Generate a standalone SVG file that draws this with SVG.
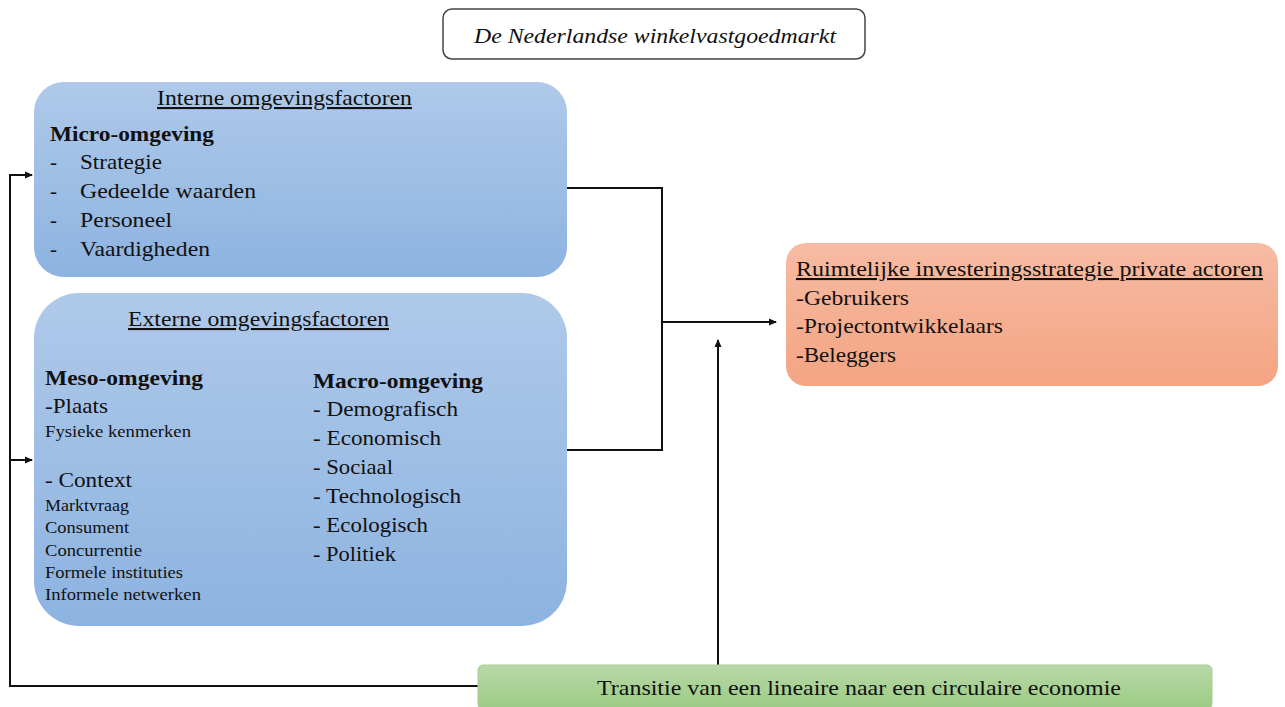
<svg xmlns="http://www.w3.org/2000/svg" width="1285" height="707" viewBox="0 0 1285 707">
<style>
text{font-family:"Liberation Serif","Times New Roman",serif;fill:#111}
.t{font-size:21px}
.s{font-size:16px}
.b{font-size:21px;font-weight:bold}
.u{text-decoration:underline}
.ln{fill:none;stroke:#111;stroke-width:2}
</style>
<defs>
<linearGradient id="gb" x1="0" y1="0" x2="0" y2="1"><stop offset="0" stop-color="#afc9e9"/><stop offset="1" stop-color="#8db3e1"/></linearGradient>
<linearGradient id="go" x1="0" y1="0" x2="0" y2="1"><stop offset="0" stop-color="#f6bba3"/><stop offset="1" stop-color="#f4a482"/></linearGradient>
<linearGradient id="gg" x1="0" y1="0" x2="0" y2="1"><stop offset="0" stop-color="#b8d8a8"/><stop offset="1" stop-color="#9ccb83"/></linearGradient>
<marker id="ah" markerWidth="8" markerHeight="8" refX="7" refY="4" orient="auto" markerUnits="userSpaceOnUse"><path d="M0,0.5 L8,4 L0,7.5 Z" fill="#111"/></marker>
</defs>
<g id="connectors">
<path class="ln" d="M567,188 H662 V450 H567"/>
<path class="ln" d="M662,322 H776" marker-end="url(#ah)"/>
<path class="ln" d="M718,665 V340" marker-end="url(#ah)"/>
<path class="ln" d="M478,686 H10 V175 H32" marker-end="url(#ah)"/>
<path class="ln" d="M10,460 H32" marker-end="url(#ah)"/>
</g>
<g id="title">
<rect x="443" y="9" width="422" height="50" rx="9" fill="#fff" stroke="#444" stroke-width="1.5"/>
<text x="474" y="43" class="t" font-style="italic" textLength="362" lengthAdjust="spacingAndGlyphs">De Nederlandse winkelvastgoedmarkt</text>
</g>
<g id="interne">
<rect x="34" y="82" width="533" height="195" rx="30" fill="url(#gb)"/>
<text x="157" y="105" class="t u" textLength="255" lengthAdjust="spacingAndGlyphs">Interne omgevingsfactoren</text>
<text x="50" y="141" class="b" textLength="164" lengthAdjust="spacingAndGlyphs">Micro-omgeving</text>
<text x="50" y="169" class="t">-</text><text x="80" y="169" class="t" textLength="82" lengthAdjust="spacingAndGlyphs">Strategie</text>
<text x="50" y="198" class="t">-</text><text x="80" y="198" class="t" textLength="176" lengthAdjust="spacingAndGlyphs">Gedeelde waarden</text>
<text x="50" y="227" class="t">-</text><text x="80" y="227" class="t" textLength="92" lengthAdjust="spacingAndGlyphs">Personeel</text>
<text x="50" y="256" class="t">-</text><text x="80" y="256" class="t" textLength="130" lengthAdjust="spacingAndGlyphs">Vaardigheden</text>
</g>
<g id="externe">
<rect x="34" y="293" width="533" height="333" rx="45" fill="url(#gb)"/>
<text x="128" y="326" class="t u" textLength="261" lengthAdjust="spacingAndGlyphs">Externe omgevingsfactoren</text>
<text x="45" y="385" class="b" textLength="158" lengthAdjust="spacingAndGlyphs">Meso-omgeving</text>
<text x="45" y="413" class="t" textLength="63" lengthAdjust="spacingAndGlyphs">-Plaats</text>
<text x="45" y="437" class="s" textLength="146" lengthAdjust="spacingAndGlyphs">Fysieke kenmerken</text>
<text x="45" y="487" class="t" textLength="87" lengthAdjust="spacingAndGlyphs">- Context</text>
<text x="45" y="511" class="s" textLength="84" lengthAdjust="spacingAndGlyphs">Marktvraag</text>
<text x="45" y="533" class="s" textLength="84" lengthAdjust="spacingAndGlyphs">Consument</text>
<text x="45" y="556" class="s" textLength="97" lengthAdjust="spacingAndGlyphs">Concurrentie</text>
<text x="45" y="578" class="s" textLength="138" lengthAdjust="spacingAndGlyphs">Formele instituties</text>
<text x="45" y="600" class="s" textLength="156" lengthAdjust="spacingAndGlyphs">Informele netwerken</text>
<text x="313" y="388" class="b" textLength="170" lengthAdjust="spacingAndGlyphs">Macro-omgeving</text>
<text x="313" y="416" class="t" textLength="145" lengthAdjust="spacingAndGlyphs">- Demografisch</text>
<text x="313" y="445" class="t" textLength="128" lengthAdjust="spacingAndGlyphs">- Economisch</text>
<text x="313" y="474" class="t" textLength="80" lengthAdjust="spacingAndGlyphs">- Sociaal</text>
<text x="313" y="503" class="t" textLength="148" lengthAdjust="spacingAndGlyphs">- Technologisch</text>
<text x="313" y="532" class="t" textLength="115" lengthAdjust="spacingAndGlyphs">- Ecologisch</text>
<text x="313" y="561" class="t" textLength="83" lengthAdjust="spacingAndGlyphs">- Politiek</text>
</g>
<g id="strategie">
<rect x="786" y="243" width="492" height="143" rx="20" fill="url(#go)"/>
<text x="796" y="276" class="t u" textLength="467" lengthAdjust="spacingAndGlyphs">Ruimtelijke investeringsstrategie private actoren</text>
<text x="796" y="305" class="t" textLength="113" lengthAdjust="spacingAndGlyphs">-Gebruikers</text>
<text x="796" y="333" class="t" textLength="207" lengthAdjust="spacingAndGlyphs">-Projectontwikkelaars</text>
<text x="796" y="362" class="t" textLength="100" lengthAdjust="spacingAndGlyphs">-Beleggers</text>
</g>
<g id="transitie">
<rect x="478" y="665" width="734" height="44" rx="5" fill="url(#gg)" stroke="#a8cf94" stroke-width="1"/>
<text x="597" y="695" class="t" textLength="524" lengthAdjust="spacingAndGlyphs">Transitie van een lineaire naar een circulaire economie</text>
</g>
</svg>
